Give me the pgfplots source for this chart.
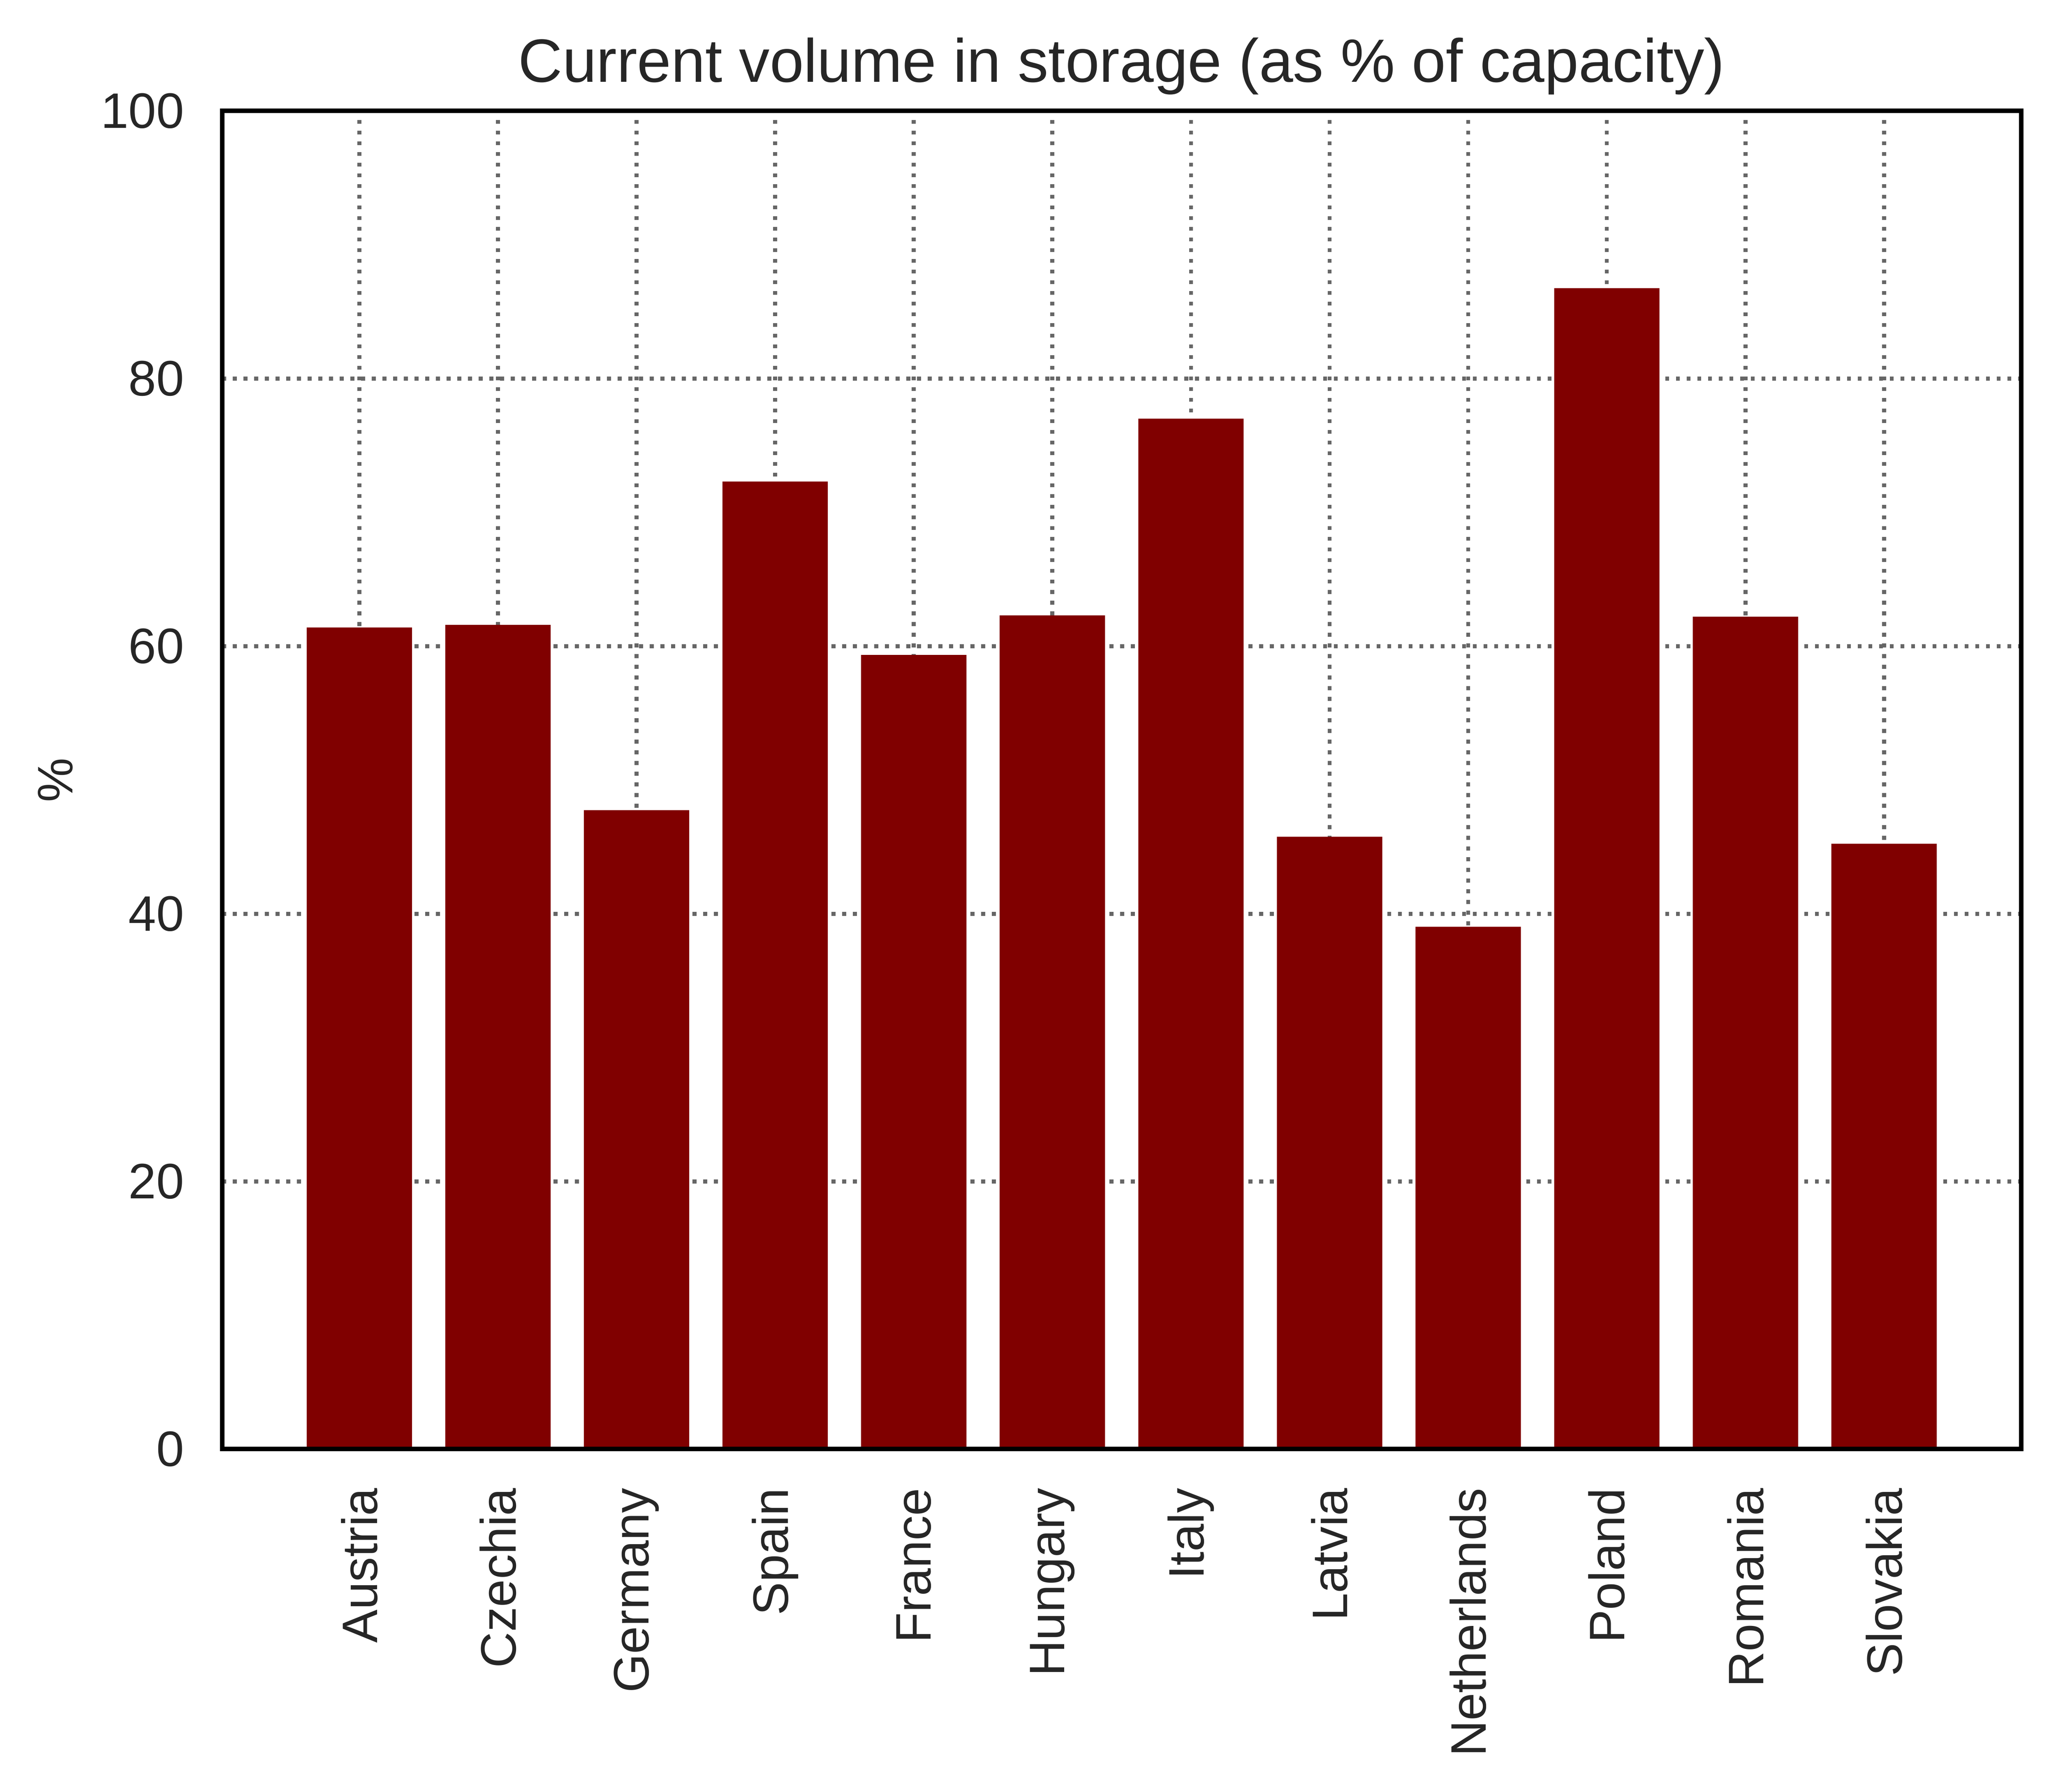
\documentclass[border=0pt]{standalone}
\usepackage{fontspec}
\setmainfont{Liberation Sans}
\usepackage{pgfplots}
\pgfplotsset{compat=1.18}
\definecolor{barc}{RGB}{128,0,0}
\definecolor{txt}{RGB}{38,38,38}
\definecolor{gridc}{RGB}{102,102,102}
\begin{document}
\begin{tikzpicture}
\begin{axis}[
  width=397.2pt, height=295.5pt, scale only axis,
  xmin=-0.99, xmax=11.99, ymin=0, ymax=100,
  clip=false,
  ytick={0,20,40,60,80,100},
  xtick={0,1,2,3,4,5,6,7,8,9,10,11},
  xticklabels={Austria,Czechia,Germany,Spain,France,Hungary,Italy,Latvia,Netherlands,Poland,Romania,Slovakia},
  major tick length=0pt,
  grid=major,
  grid style={gridc, line width=0.88pt, dash pattern=on 0.88pt off 1.48pt},
  axis line style={black, line width=1pt},
  /pgf/number format/assume math mode=true,
  tick label style={font=\fontsize{11}{13}\selectfont, text=txt},
  xticklabel style={rotate=90, anchor=east, inner sep=0pt, inner xsep=8.4pt},
  yticklabel style={anchor=east, inner sep=0pt, inner xsep=8.2pt},
  ylabel={\%},
  every axis y label/.style={at={(axis description cs:-0.0926,0.5)}, rotate=90, anchor=center, font=\fontsize{11}{13}\selectfont, text=txt},
  title={Current volume in storage (as \% of capacity)},
  title style={at={(axis description cs:0.5,1)}, anchor=base, yshift=0.4pt, font=\fontsize{13.5}{16}\selectfont, text=txt},
]
\addplot[ybar, bar width=0.76, fill=barc, draw=none] coordinates {
  (0,61.4) (1,61.6) (2,47.75) (3,72.3) (4,59.35) (5,62.3)
  (6,77.0) (7,45.76) (8,39.03) (9,86.75) (10,62.2) (11,45.24)
};
\draw[black, line width=1pt] (rel axis cs:0,0) rectangle (rel axis cs:1,1);
\end{axis}
\pgfresetboundingbox
\path[use as bounding box] (current axis.south west) ++(-49.04pt,-75.68pt) rectangle ++(453.92pt,395.68pt);
\end{tikzpicture}
\end{document}
